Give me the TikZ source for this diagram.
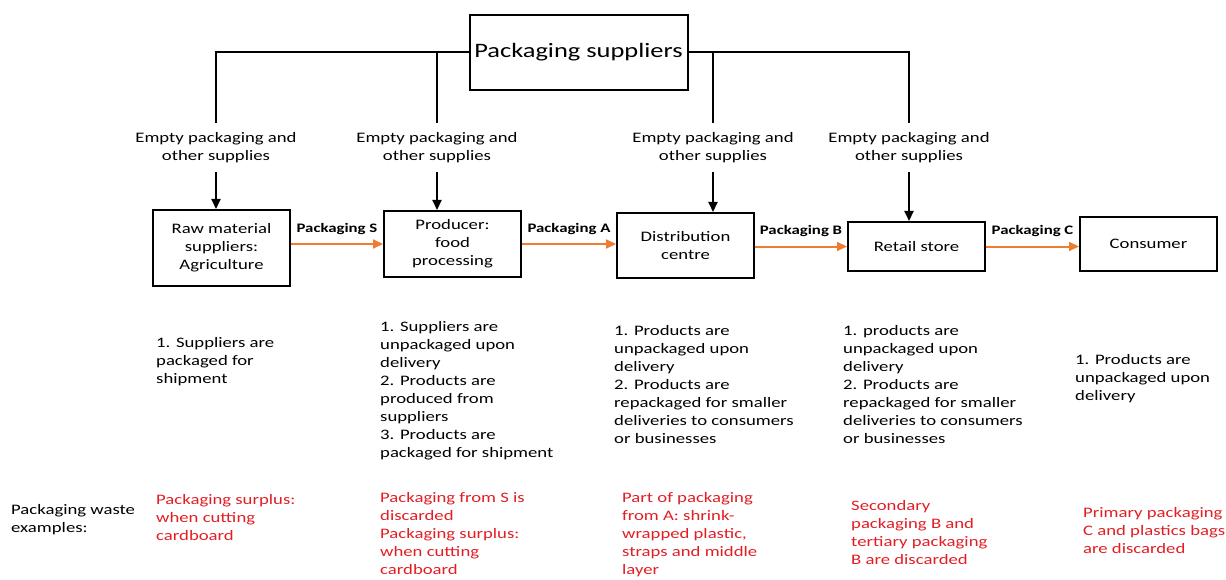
\documentclass[tikz,border=0pt]{standalone}
\usepackage{fontspec}
\setmainfont{Carlito}[FakeStretch=1.29]
\usetikzlibrary{arrows.meta,positioning}
\definecolor{pkorange}{RGB}{237,125,49}
\definecolor{pkred}{RGB}{226,30,36}
\newcommand{\txt}{\fontsize{14.5}{18}\selectfont}
\tikzset{
  stage/.style={draw, line width=2pt, minimum width=137pt, align=center, font=\txt},
  supply/.style={align=center, inner xsep=0pt, inner ysep=9pt, font=\txt},
  note/.style={anchor=north west, align=left, inner sep=0pt, font=\txt},
  waste/.style={note, text=pkred},
  link/.style={line width=2pt},
  feed/.style={line width=2pt, -{Triangle[length=10pt,width=9pt]}},
  flow/.style={pkorange, line width=2pt, -{Triangle[length=10pt,width=9pt]}},
  flowlabel/.style={midway, above=5pt, black, font=\fontsize{13}{15}\selectfont\bfseries}
}
\begin{document}
\begin{tikzpicture}[x=1pt, y=-1pt]
 	\useasboundingbox (0,0) rectangle (1226,580);
 	% supplier and chain stages
 	\node (sup) [stage, minimum width=218pt, minimum height=75pt, font=\fontsize{20.5}{24}\selectfont] at (578.5,52.5) {Packaging suppliers};
 	\node (raw) [stage, minimum height=76pt] at (221.5,248) {Raw material\\suppliers:\\Agriculture};
 	\node (prod) [stage, minimum height=66pt] at (452.5,244) {Producer:\\food\\processing};
 	\node (dist) [stage, minimum height=65pt] at (685.5,245.5) {Distribution\\centre};
 	\node (retail) [stage, minimum height=49pt] at (916.5,246.5) {Retail store};
 	\node (cons) [stage, minimum height=54pt] at (1148.5,244) {Consumer};
 
 	% supply labels
 	\node (e1) [supply] at (216,147.5) {Empty packaging and\\other supplies};
 	\node (e2) [supply] at (437,147.5) {Empty packaging and\\other supplies};
 	\node (e3) [supply] at (713,147.5) {Empty packaging and\\other supplies};
 	\node (e4) [supply] at (909,147.5) {Empty packaging and\\other supplies};
 
 	\draw[link] (sup.west) -| (e1.north);
 	\draw[link] (e2.north) -- (e2.north |- sup.west);
 	\draw[link] (sup.east) -| (e4.north);
 	\draw[link] (e3.north) -- (e3.north |- sup.east);
 
 	\draw[feed] (e1.south) -- (e1.south |- raw.north);
 	\draw[feed] (e2.south) -- (e2.south |- prod.north);
 	\draw[feed] (e3.south) -- (e3.south |- dist.north);
 	\draw[feed] (e4.south) -- (e4.south |- retail.north);
 
 	% packaging flow
 	\draw[flow] (raw.east |- prod.west) -- (prod.west)
 	node[flowlabel] {Packaging S};
 	\draw[flow] (prod.east) -- (prod.east -| dist.west)
 	node[flowlabel] {Packaging A};
 	\draw[flow] (dist.east |- retail.west) -- (retail.west)
 	node[flowlabel] {Packaging B};
 	\draw[flow] (retail.east) -- (retail.east -| cons.west)
 	node[flowlabel] {Packaging C};
 
 	% steps
 	\node (n1) [note] at (156,337) {1. Suppliers are\\packaged for\\shipment};
 	\node (n2) [note] at (380,321) {1. Suppliers are\\unpackaged upon\\delivery\\2. Products are\\produced from\\suppliers\\3. Products are\\packaged for shipment};
 	\node (n3) [note] at (614,325) {1. Products are\\unpackaged upon\\delivery\\2. Products are\\repackaged for smaller\\deliveries to consumers\\or businesses};
 	\node (n4) [note] at (843,325) {1. products are\\unpackaged upon\\delivery\\2. Products are\\repackaged for smaller\\deliveries to consumers\\or businesses};
 	\node (n5) [note] at (1075,354) {1. Products are\\unpackaged upon\\delivery};
 
 	% waste examples
 	\node (wlabel) [note] at (11,504) {Packaging waste\\examples:};
 	\node (w1) [waste] at (156,494) {Packaging surplus:\\when cutting\\cardboard};
 	\node (w2) [waste] at (380,492) {Packaging from S is\\discarded\\Packaging surplus:\\when cutting\\cardboard};
 	\node (w3) [waste] at (622,492) {Part of packaging\\from A: shrink-\\wrapped plastic,\\straps and middle\\layer};
 	\node (w4) [waste] at (851,500) {Secondary\\packaging B and\\tertiary packaging\\B are discarded};
 	\node (w5) [waste] at (1083,507) {Primary packaging\\C and plastics bags\\are discarded};
\end{tikzpicture}
\end{document}
